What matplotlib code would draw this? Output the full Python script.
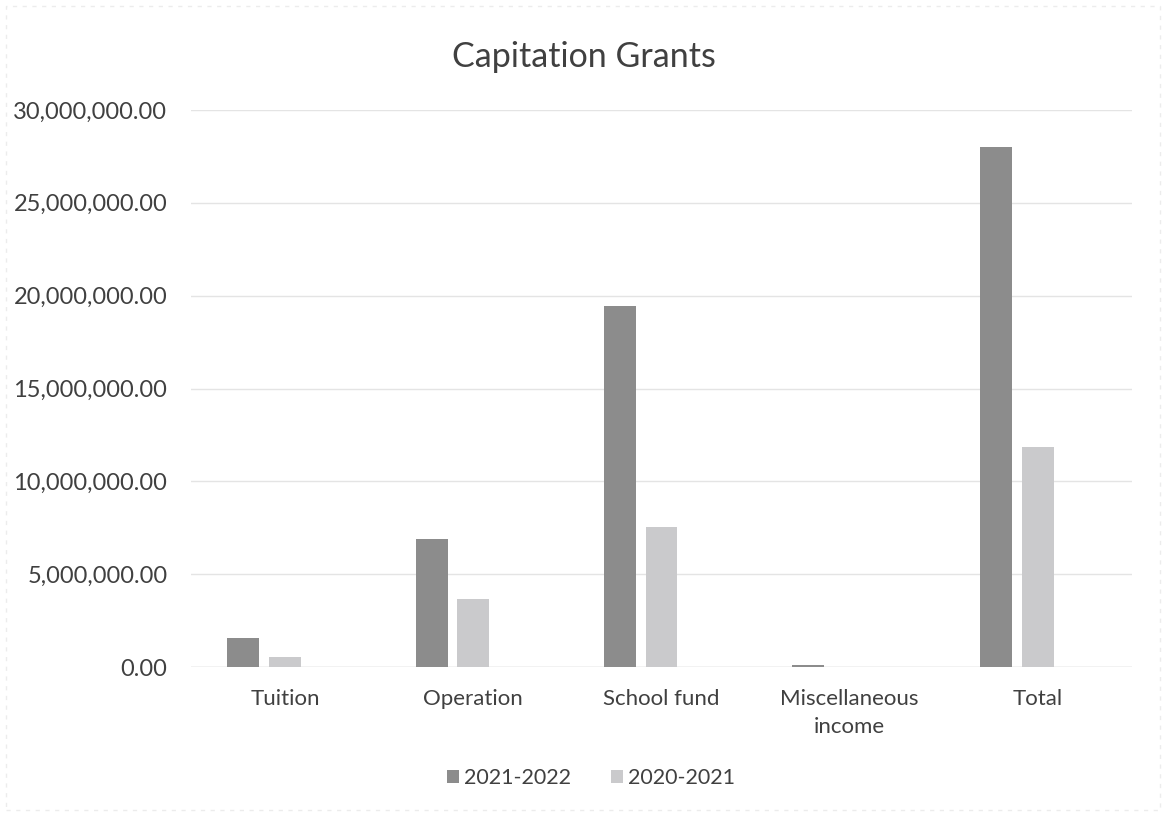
import matplotlib
matplotlib.use("Agg")
import matplotlib.pyplot as plt
from matplotlib.patches import Rectangle
from matplotlib.ticker import FuncFormatter, MultipleLocator
import numpy as np

categories = ["Tuition", "Operation", "School fund", "Miscellaneous\nincome", "Total"]
series_names = ["2021-2022", "2020-2021"]
values_2021_2022 = [1_560_000, 6_890_000, 19_440_000, 120_000, 28_000_000]
values_2020_2021 = [540_000, 3_660_000, 7_540_000, 0, 11_850_000]

plt.rcParams["font.family"] = ["Lato", "DejaVu Sans"]
text_color = "#404040"

fig = plt.figure(figsize=(11.67, 8.16), dpi=100)
ax = fig.add_axes([191 / 1167, 149 / 816, (1132 - 191) / 1167, (667 - 110) / 816])

x = np.arange(len(categories))
bar_w = 0.17
offset = 0.222
ax.bar(x - offset, values_2021_2022, width=bar_w, color="#8c8c8c", label=series_names[0], zorder=3)
ax.bar(x, values_2020_2021, width=bar_w, color="#cacacc", label=series_names[1], zorder=3)

ax.set_xlim(-0.5, len(categories) - 0.5)
ax.set_ylim(0, 30_000_000)
ax.yaxis.set_major_locator(MultipleLocator(5_000_000))
ax.yaxis.set_major_formatter(FuncFormatter(lambda v, p: f"{v:,.2f}"))
ax.set_xticks(x)
ax.set_xticklabels(categories, linespacing=1.5)
ax.tick_params(axis="both", length=0, colors=text_color)
ax.tick_params(axis="x", pad=16, labelsize=16)
ax.tick_params(axis="y", pad=17, labelsize=17)

for s in ax.spines.values():
    s.set_visible(False)
ax.grid(axis="y", color="#e4e4e4", linewidth=1.0, zorder=0)
ax.axhline(0, color="#dadada", linewidth=1.0, zorder=2)

fig.text(584 / 1167, 1 - 57 / 816, "Capitation Grants", ha="center", va="center",
         fontsize=24.5, color=text_color)

fig.legend(loc="center", bbox_to_anchor=(591 / 1167, 1 - 778 / 816), ncol=2, frameon=False,
           fontsize=15.5, handlelength=0.55, handleheight=0.55, handletextpad=0.2,
           columnspacing=1.9, labelcolor=text_color)

fig.patches.append(Rectangle((6 / 1167, 6 / 816), 1154 / 1167, 804 / 816,
                             transform=fig.transFigure, fill=False,
                             edgecolor="#ececec", linewidth=1.0, linestyle=(0, (3, 4))))

fig.savefig("out.png", dpi=100, facecolor="white")
